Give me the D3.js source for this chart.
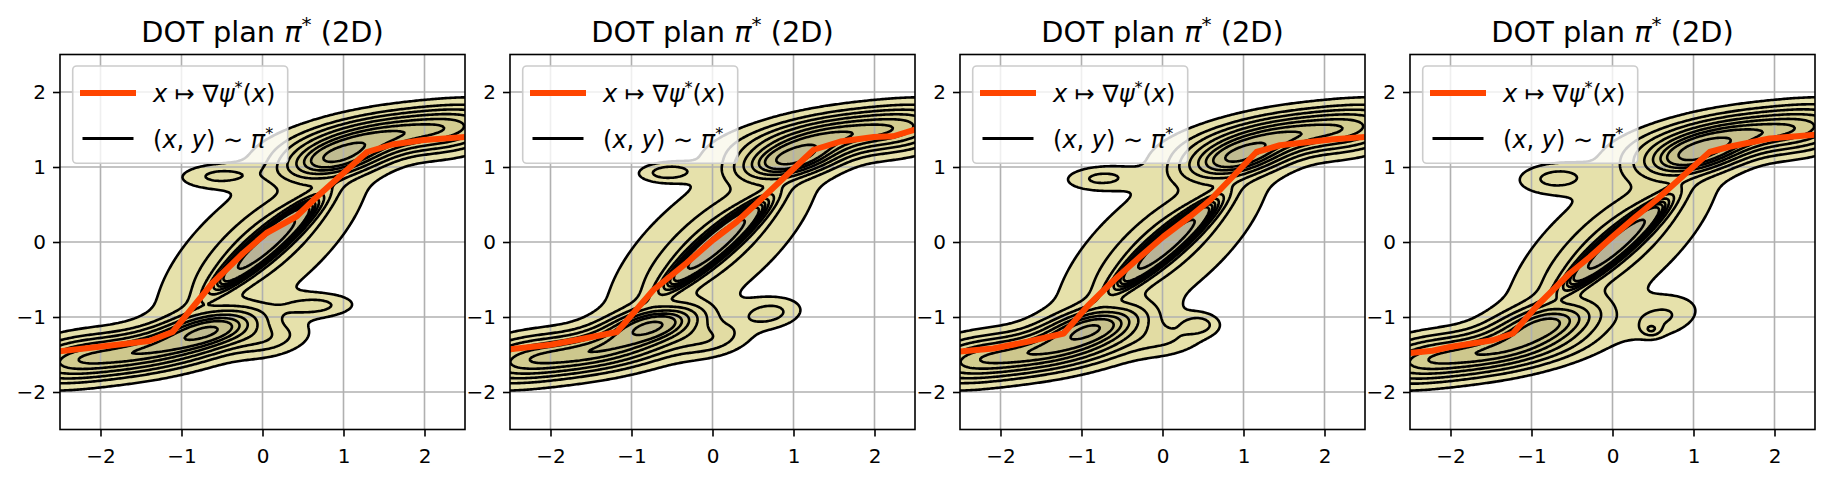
<!DOCTYPE html>
<html><head><meta charset="utf-8">
<script src="https://cdn.jsdelivr.net/npm/d3@7"></script>
<style>body{margin:0;background:#fff} svg text{font-family:"DejaVu Sans",sans-serif}</style>
</head><body>
<svg id="chart" width="1829" height="479"></svg>
<script>
// ---------------- data ----------------
const xTicks = [-2, -1, 0, 1, 2];
const yTicks = [-2, -1, 0, 1, 2];
const xDomain = [-2.5, 2.5];
const yDomain = [-2.5, 2.5];
const legendLabels = ["map", "plan"];
const levelProps = [0.05, 0.1556, 0.2611, 0.3667, 0.4722, 0.5778, 0.6833, 0.7889, 0.8944];
const fillColors = ["#e6e1ab", "#e2dca3", "#ddd79b", "#d8d295", "#d3cd90", "#cdc78d", "#c7c18d", "#c0bb91", "#b8b397"];

// map x -> grad psi*(x), read per panel
const mapX1 = [-2.52, -2.2, -1.8, -1.4, -1.11, -0.62, -0.24, 0.05, 0.42, 0.67, 1.29, 1.6, 1.99, 2.5];
const mapY1 = [-1.46, -1.42, -1.37, -1.32, -1.20, -0.55, -0.15, 0.12, 0.34, 0.60, 1.20, 1.30, 1.36, 1.40];
const mapX2 = [-2.5, -2.0, -1.6, -1.18, -0.73, -0.32, 0.01, 0.30, 0.63, 1.25, 1.58, 1.99, 2.23, 2.5];
const mapY2 = [-1.43, -1.37, -1.29, -1.20, -0.64, -0.28, 0.03, 0.27, 0.60, 1.23, 1.34, 1.40, 1.41, 1.50];
const mapX3 = [-2.5, -2.09, -1.67, -1.22, -0.93, -0.60, -0.28, 0.01, 0.34, 0.59, 1.16, 1.45, 2.11, 2.5];
const mapY3 = [-1.46, -1.42, -1.33, -1.22, -0.86, -0.51, -0.20, 0.07, 0.34, 0.56, 1.20, 1.29, 1.37, 1.40];
const mapX4 = [-2.5, -2.22, -2.01, -1.48, -1.23, -0.94, -0.53, -0.28, 0.0, 0.29, 0.54, 1.20, 1.44, 1.94, 2.51];
const mapY4 = [-1.48, -1.45, -1.40, -1.31, -1.22, -0.86, -0.42, -0.20, 0.07, 0.34, 0.56, 1.20, 1.27, 1.38, 1.43];

// density of (x, y) ~ pi*, as gaussian bumps: [mx, my, sx, sy, rho, weight]
const compsShared = [
  [0.05, -0.03, 0.30, 0.28, 0.93, 0.15],
  [0, 0, 0.52, 0.48, 0.86, 0.04],
  [0, 0, 0.85, 0.80, 0.68, 0.15],
  [-1.5, -1.47, 0.70, 0.21, 0.55, 0.13],
  [-2.4, -1.55, 0.40, 0.20, 0.30, 0.035],
  [1.5, 1.43, 0.70, 0.21, 0.55, 0.13],
  [2.4, 1.48, 0.40, 0.20, 0.30, 0.035]
];
const comps1 = [
  [-0.62, -1.15, 0.40, 0.17, 0.45, 0.065],
  [0.88, 1.10, 0.40, 0.17, 0.45, 0.065],
  [-0.55, 0.88, 0.30, 0.10, 0.10, 0.008],
  [0.65, -0.85, 0.30, 0.10, 0.10, 0.009],
  [0.10, -1.30, 0.30, 0.15, 0.30, 0.012]
];
const comps2 = [
  [-0.73, -1.10, 0.38, 0.16, 0.45, 0.065],
  [0.96, 1.09, 0.38, 0.16, 0.45, 0.065],
  [-0.55, 0.93, 0.22, 0.08, 0.10, 0.006],
  [0.70, -0.95, 0.25, 0.13, 0.20, 0.010],
  [0.00, -1.30, 0.30, 0.15, 0.30, 0.012]
];
const comps3 = [
  [-0.85, -1.12, 0.40, 0.17, 0.45, 0.065],
  [0.90, 1.10, 0.40, 0.17, 0.45, 0.065],
  [-0.75, 0.85, 0.28, 0.10, 0.10, 0.008],
  [0.45, -1.10, 0.15, 0.09, 0.00, 0.004],
  [0.10, -1.30, 0.30, 0.15, 0.30, 0.008]
];
const comps4 = [
  [-0.82, -1.08, 0.42, 0.18, 0.45, 0.065],
  [1.00, 1.14, 0.40, 0.17, 0.45, 0.065],
  [-0.70, 0.85, 0.30, 0.13, 0.10, 0.011],
  [0.60, -1.00, 0.30, 0.18, 0.30, 0.013],
  [0.48, -1.17, 0.08, 0.06, 0.00, 0.0012]
];

const panels = [
  {mapX: mapX1, mapY: mapY1, comps: compsShared.concat(comps1)},
  {mapX: mapX2, mapY: mapY2, comps: compsShared.concat(comps2)},
  {mapX: mapX3, mapY: mapY3, comps: compsShared.concat(comps3)},
  {mapX: mapX4, mapY: mapY4, comps: compsShared.concat(comps4)}
];

// ---------------- layout ----------------
const axLeft = [60, 510, 960, 1410];
const axW = 405, axTop = 54.5, axH = 375;
const svg = d3.select("#chart");

function density(comps, x, y) {
  let s = 0;
  for (const [mx, my, sx, sy, r, w] of comps) {
    const dx = (x - mx) / sx, dy = (y - my) / sy;
    const q = (dx * dx - 2 * r * dx * dy + dy * dy) / (1 - r * r);
    s += w * Math.exp(-0.5 * q) / (2 * Math.PI * sx * sy * Math.sqrt(1 - r * r));
  }
  return s;
}

const g0 = -3.6, step = 0.02, n = 361;

panels.forEach((p, pi) => {
  const L = axLeft[pi];
  const xs = d3.scaleLinear().domain(xDomain).range([L, L + axW]);
  const ys = d3.scaleLinear().domain(yDomain).range([axTop + axH, axTop]);
  const g = svg.append("g");
  const clipId = "clip" + pi;
  svg.append("clipPath").attr("id", clipId).append("rect")
    .attr("x", L).attr("y", axTop).attr("width", axW).attr("height", axH);

  const values = new Float64Array(n * n);
  for (let j = 0; j < n; j++) for (let i = 0; i < n; i++)
    values[i + j * n] = density(p.comps, g0 + i * step, g0 + j * step);
  const sorted = Array.from(values).sort((a, b) => a - b);
  const total = d3.sum(sorted);
  const cum = [];
  let c = 0;
  for (const v of sorted) { c += v; cum.push(c / total); }
  const th = levelProps.map(pr => sorted[d3.bisectLeft(cum, pr)]);
  const contours = d3.contours().size([n, n]).thresholds(th)(values);
  const proj = d3.geoTransform({point(px, py) {
    this.stream.point(xs(g0 + (px - 0.5) * step), ys(g0 + (py - 0.5) * step));
  }});
  const path = d3.geoPath(proj);

  const clipG = g.append("g").attr("clip-path", `url(#${clipId})`);
  clipG.selectAll("path.fill").data(contours).join("path")
    .attr("class", "fill").attr("d", path)
    .attr("fill", (d, k) => fillColors[k]).attr("stroke", "none");

  clipG.selectAll("line.gx").data(xTicks).join("line").attr("class", "gx")
    .attr("x1", d => xs(d)).attr("x2", d => xs(d)).attr("y1", axTop).attr("y2", axTop + axH)
    .attr("stroke", "#b0b0b0").attr("stroke-width", 1.6);
  clipG.selectAll("line.gy").data(yTicks).join("line").attr("class", "gy")
    .attr("y1", d => ys(d)).attr("y2", d => ys(d)).attr("x1", L).attr("x2", L + axW)
    .attr("stroke", "#b0b0b0").attr("stroke-width", 1.6);

  clipG.selectAll("path.line").data(contours).join("path")
    .attr("class", "line").attr("d", path)
    .attr("fill", "none").attr("stroke", "#000").attr("stroke-width", 2.6).attr("stroke-linejoin", "round");

  const mapPts = p.mapX.map((x, k) => [x, p.mapY[k]]);
  clipG.append("path").datum(mapPts)
    .attr("d", d3.line().x(d => xs(d[0])).y(d => ys(d[1])))
    .attr("fill", "none").attr("stroke", "#ff4500").attr("stroke-width", 6)
    .attr("stroke-linejoin", "round");

  const xAxis = g.append("g").attr("transform", `translate(0,${axTop + axH})`)
    .call(d3.axisBottom(xs).tickValues(xTicks).tickSize(7).tickPadding(7).tickFormat(d3.format("")));
  const yAxis = g.append("g").attr("transform", `translate(${L},0)`)
    .call(d3.axisLeft(ys).tickValues(yTicks).tickSize(7).tickPadding(7).tickFormat(d3.format("")));
  [xAxis, yAxis].forEach(a => {
    a.select(".domain").remove();
    a.selectAll(".tick line").attr("stroke", "#000").attr("stroke-width", 1.6);
    a.selectAll(".tick text").attr("fill", "#000").style("font-size", "20px")
      .style("font-family", "DejaVu Sans");
  });
  xAxis.selectAll(".tick text").attr("dy", "0.95em");
  g.append("rect").attr("x", L).attr("y", axTop).attr("width", axW).attr("height", axH)
    .attr("fill", "none").attr("stroke", "#000").attr("stroke-width", 1.6);

  const t = g.append("text").attr("x", L + axW / 2).attr("y", 42).attr("text-anchor", "middle")
    .style("font-size", "28.8px").attr("fill", "#000");
  t.append("tspan").text("DOT plan ");
  t.append("tspan").style("font-style", "italic").text("π");
  t.append("tspan").attr("dy", -11).style("font-size", "20px").text("*");
  t.append("tspan").attr("dy", 11).text(" (2D)");

  const lg = g.append("g").attr("transform", `translate(${L},${axTop})`);
  lg.append("rect").attr("x", 12.7).attr("y", 11.5).attr("width", 215).attr("height", 97.3)
    .attr("rx", 4).attr("fill", "#fff").attr("fill-opacity", 0.8)
    .attr("stroke", "#cccccc").attr("stroke-width", 1.6);
  const rows = [
    {y: 38.5, color: "#ff4500", w: 6, key: legendLabels[0]},
    {y: 84, color: "#000", w: 3, key: legendLabels[1]}
  ];
  rows.forEach(r => {
    lg.append("line").attr("x1", 23 + (r.w === 6 ? 0 : 1)).attr("x2", 73 + (r.w === 6 ? 0 : -1))
      .attr("y1", r.y).attr("y2", r.y).attr("stroke", r.color).attr("stroke-width", r.w)
      .attr("stroke-linecap", "square");
    const tx = lg.append("text").attr("x", 93).attr("y", r.y + 9).style("font-size", "24px").attr("fill", "#000");
    if (r.key === "map") {
      tx.append("tspan").style("font-style", "italic").text("x");
      tx.append("tspan").text(" ↦ ∇");
      tx.append("tspan").style("font-style", "italic").text("ψ");
      tx.append("tspan").attr("dy", -9).style("font-size", "16px").text("*");
      tx.append("tspan").attr("dy", 9).text("(");
      tx.append("tspan").style("font-style", "italic").text("x");
      tx.append("tspan").text(")");
    } else {
      tx.append("tspan").text("(");
      tx.append("tspan").style("font-style", "italic").text("x");
      tx.append("tspan").text(", ");
      tx.append("tspan").style("font-style", "italic").text("y");
      tx.append("tspan").text(") ∼ ");
      tx.append("tspan").style("font-style", "italic").text("π");
      tx.append("tspan").attr("dy", -9).style("font-size", "16px").text("*");
    }
  });
});
</script>
</body></html>
